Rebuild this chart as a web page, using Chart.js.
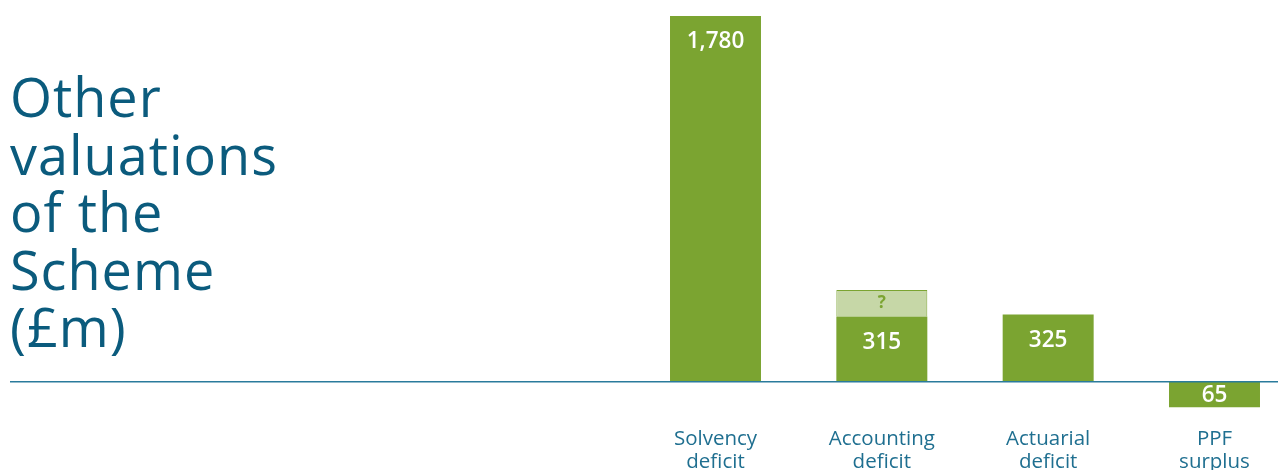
<!DOCTYPE html>
<html>
<head>
<meta charset="utf-8">
<script src="https://cdn.jsdelivr.net/npm/chart.js@4/dist/chart.umd.min.js"></script>
<style>
  html, body { margin: 0; padding: 0; background: #ffffff; overflow: hidden; }
  #wrap { position: relative; width: 1278px; height: 470px; }
  #title { position: absolute; left: 10px; top: 68px; font-family: "Open Sans", Lato, sans-serif; font-size: 54px; letter-spacing: 1px; line-height: 57.5px; color: #0b5b7d; white-space: nowrap; }
  canvas { position: absolute; left: 0; top: 0; }
</style>
</head>
<body>
<div id="wrap">
  <canvas id="c" width="1278" height="470"></canvas>
  <div id="title">Other<br>valuations<br>of the<br>Scheme<br>(£m)</div>
</div>
<script>
const categories = [["Solvency", "deficit"], ["Accounting", "deficit"], ["Actuarial", "deficit"], ["PPF", "surplus"]];
const values = [1780, 315, 325, -65];
const unknownExtra = [null, 130, null, null];
const unknownLabel = "?";

const GREEN = "#7ba431";
const LIGHT = "#c6d7a7";
const BLUE = "#2a7b9c";
const FONT = "'Open Sans', Lato, sans-serif";

const labelPlugin = {
  id: "labels",
  afterDatasetsDraw(chart) {
    const ctx = chart.ctx;
    const y = chart.scales.y;
    const zero = y.getPixelForValue(0);
    ctx.save();
    ctx.strokeStyle = BLUE;
    ctx.lineWidth = 1.5;
    ctx.beginPath();
    ctx.moveTo(10, zero + 0.5);
    ctx.lineTo(1278, zero + 0.5);
    ctx.stroke();
    ctx.textAlign = "center";
    ctx.textBaseline = "middle";
    ctx.font = "600 22.5px " + FONT;
    ctx.fillStyle = "#ffffff";
    const meta0 = chart.getDatasetMeta(0);
    meta0.data.forEach((bar, i) => {
      const v = values[i];
      const txt = Math.abs(v).toLocaleString("en-GB");
      let ty;
      if (v >= 0) ty = bar.y + 26;
      else ty = (bar.y + bar.base) / 2 + 1;
      ctx.fillText(txt, bar.x, ty);
    });
    const meta1 = chart.getDatasetMeta(1);
    ctx.fillStyle = GREEN;
    ctx.font = "bold 17px " + FONT;
    meta1.data.forEach((bar, i) => {
      if (unknownExtra[i] == null) return;
      ctx.fillText(unknownLabel, bar.x, (bar.y + bar.base) / 2);
    });
    ctx.restore();
  }
};

new Chart(document.getElementById("c"), {
  type: "bar",
  data: {
    labels: categories,
    datasets: [
      { data: values, backgroundColor: GREEN, borderWidth: 0, minBarLength: 26, clip: false },
      { data: unknownExtra, backgroundColor: LIGHT, borderColor: GREEN, borderWidth: 1, borderSkipped: "bottom", clip: false }
    ]
  },
  options: {
    responsive: false,
    animation: false,
    events: [],
    layout: { padding: { left: 715.5, right: 63.5, top: 16, bottom: 0 } },
    categoryPercentage: 1,
    barPercentage: 0.547,
    plugins: { legend: { display: false }, tooltip: { enabled: false }, title: { display: false } },
    scales: {
      x: {
        stacked: true,
        offset: false,
        grid: { display: false },
        border: { display: false },
        ticks: { color: "#1f6f90", font: { family: FONT, size: 20.5, lineHeight: 1.15 }, padding: 7, maxRotation: 0, autoSkip: false },
        afterFit(scale) { scale.height = 58; }
      },
      y: {
        stacked: true,
        display: false,
        min: -150,
        max: 1780
      }
    }
  },
  plugins: [labelPlugin]
});
</script>
</body>
</html>
